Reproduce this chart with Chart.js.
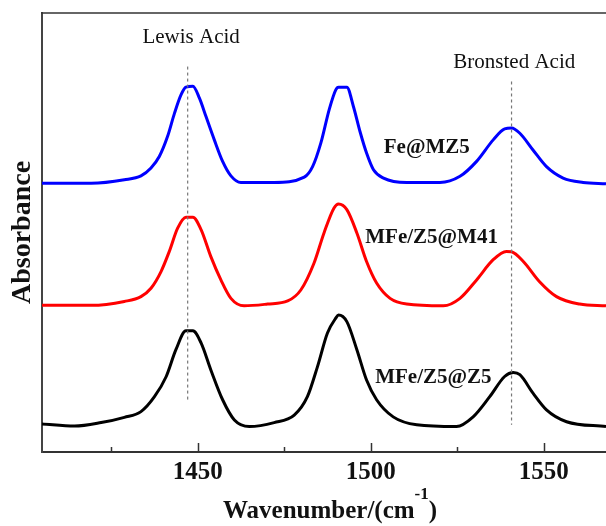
<!DOCTYPE html>
<html>
<head>
<meta charset="utf-8">
<title>Absorbance</title>
<script src="https://cdn.jsdelivr.net/npm/chart.js@4.4.0/dist/chart.umd.min.js"></script>
<style>
  html, body { margin: 0; padding: 0; background: #fff; }
</style>
</head>
<body>
<canvas id="irChart" width="606" height="526"></canvas>
<script>
// Fe@MZ5 (blue)
var waveBlue = [1405,1419.2,1428.8,1433.6,1436.5,1438.9,1441.3,1443.3,1445.2,1446.6,1448.6,1450.5,1452.4,1454.8,1457.2,1459.6,1462.5,1472.1,1480.8,1483.2,1485.6,1488.0,1489.9,1490.7,1493.1,1495.0,1496.9,1498.8,1500.8,1503.7,1510.4,1520.0,1525.8,1530.6,1535.4,1538.7,1540.7,1543.1,1546.9,1550.8,1555.6,1561.4,1568];
var absBlue  = [61.2,61.2,62.0,62.9,64.7,67.3,71.9,77.2,81.4,83.1,83.3,80.6,76.4,71.1,66.2,62.9,61.4,61.4,62.6,65.0,70.4,78.0,82.5,83.1,83.1,78.7,73.0,68.1,64.3,62.4,61.4,61.4,62.8,66.2,71.1,73.6,73.8,72.6,68.8,65.0,62.4,61.4,61.1];

// MFe/Z5@M41 (red)
var waveRed = [1405,1419.2,1428.8,1433.6,1436.5,1439.4,1441.8,1444.2,1446.6,1448.6,1451.0,1453.8,1456.7,1459.6,1463.4,1470.2,1476.0,1479.8,1483.6,1486.5,1489.4,1490.7,1493.1,1496.0,1498.8,1501.7,1505.6,1510.4,1521.0,1525.8,1530.6,1535.4,1539.2,1540.7,1544.1,1548.8,1553.7,1560.4,1568];
var absRed  = [33.4,33.4,34.3,35.4,37.3,41.1,45.7,51.0,53.5,53.5,50.6,44.5,39.2,35.0,33.3,33.7,34.4,36.9,43.0,49.9,55.6,56.5,55.2,49.9,43.4,38.5,35.0,33.7,33.3,35.0,39.2,43.8,45.7,45.6,43.4,38.8,35.4,33.7,33.3];

// MFe/Z5@Z5 (black)
var waveBlack = [1405,1414.4,1422.1,1428.8,1433.6,1437.5,1440.9,1443.7,1446.6,1448.6,1451.0,1453.8,1457.2,1460.6,1464.9,1472.1,1477.9,1481.7,1484.6,1487.5,1489.9,1490.7,1493.1,1496.0,1498.8,1501.7,1506.5,1513.3,1524.8,1529.6,1534.4,1538.7,1541.2,1543.1,1546.9,1550.8,1556.6,1568];
var absBlack  = [6.4,5.9,6.7,7.9,9.2,12.6,17.2,23.3,27.6,27.6,24.8,18.7,11.9,7.3,5.8,6.7,8.4,12.6,19.4,27.1,30.5,31.2,29.7,23.3,16.4,11.9,8.0,6.2,5.8,8.0,12.6,17.2,18.1,17.6,13.4,9.6,6.9,5.8];

// reference lines: Lewis, Bronsted
var markerWaves = [1447.1, 1540.7];
var markerTop = [87.8, 84.4];
var markerBottom = [11.9, 6.2];

var majorTicks = [1450, 1500, 1550];
var minorTicks = [1425, 1475, 1525];

function pts(xs, ys) {
  return xs.map(function(x, i) { return {x: x, y: ys[i]}; });
}

var serif = "'Liberation Serif', 'Times New Roman', serif";

var datasets = markerWaves.map(function(w, i) {
  return {
    data: [{x: w, y: markerTop[i]}, {x: w, y: markerBottom[i]}],
    borderColor: "#777",
    borderWidth: 1.2,
    borderDash: [3, 3],
    pointRadius: 0,
    fill: false
  };
});
datasets.push({ data: pts(waveBlue, absBlue), borderColor: "#0000ff" });
datasets.push({ data: pts(waveRed, absRed), borderColor: "#ff0000" });
datasets.push({ data: pts(waveBlack, absBlack), borderColor: "#000000" });
datasets.slice(2).forEach(function(d) {
  d.borderWidth = 3;
  d.pointRadius = 0;
  d.fill = false;
  d.cubicInterpolationMode = "monotone";
});

// text notes placed in data coordinates
var notes = [
  {text: "Lewis Acid", x: 1448.1, y: 94.4, bold: false},
  {text: "Bronsted Acid", x: 1541.5, y: 88.7, bold: false},
  {text: "Fe@MZ5", x: 1516.2, y: 69.3, bold: true},
  {text: "MFe/Z5@M41", x: 1517.6, y: 48.8, bold: true},
  {text: "MFe/Z5@Z5", x: 1518.1, y: 16.9, bold: true}
];

var decorations = {
  id: "decorations",
  afterDraw: function(chart) {
    var ctx = chart.ctx;
    var area = chart.chartArea;
    var xs = chart.scales.x, ys = chart.scales.y;
    ctx.save();
    // top frame line
    ctx.strokeStyle = "#333";
    ctx.lineWidth = 1.5;
    ctx.beginPath();
    ctx.moveTo(area.left - 1, area.top);
    ctx.lineTo(area.right, area.top);
    ctx.stroke();
    // inward ticks
    ctx.lineWidth = 1.5;
    majorTicks.forEach(function(v) {
      var px = Math.round(xs.getPixelForValue(v)) + 0.5;
      ctx.beginPath();
      ctx.moveTo(px, area.bottom);
      ctx.lineTo(px, area.bottom - 9);
      ctx.stroke();
    });
    minorTicks.forEach(function(v) {
      var px = Math.round(xs.getPixelForValue(v)) + 0.5;
      ctx.beginPath();
      ctx.moveTo(px, area.bottom);
      ctx.lineTo(px, area.bottom - 5);
      ctx.stroke();
    });
    // notes
    ctx.fillStyle = "#111";
    ctx.textAlign = "center";
    ctx.textBaseline = "middle";
    notes.forEach(function(n) {
      ctx.font = (n.bold ? "bold " : "") + "21px " + serif;
      ctx.fillText(n.text, xs.getPixelForValue(n.x), ys.getPixelForValue(n.y));
    });
    // x axis title with superscript
    var main = "Wavenumber/(cm", sup = "-1", close = ")";
    var mainFont = "bold 25px " + serif, supFont = "bold 17px " + serif;
    ctx.font = mainFont;
    var w1 = ctx.measureText(main).width, w3 = ctx.measureText(close).width;
    ctx.font = supFont;
    var w2 = ctx.measureText(sup).width;
    var cx = (area.left + area.right) / 2 + 6;
    var x0 = cx - (w1 + w2 + w3) / 2;
    var base = 518;
    ctx.textAlign = "left";
    ctx.textBaseline = "alphabetic";
    ctx.font = mainFont;
    ctx.fillText(main, x0, base);
    ctx.font = supFont;
    ctx.fillText(sup, x0 + w1, base - 19);
    ctx.font = mainFont;
    ctx.fillText(close, x0 + w1 + w2, base);
    ctx.restore();
  }
};

new Chart("irChart", {
  type: "line",
  data: { datasets: datasets },
  options: {
    responsive: false,
    animation: false,
    layout: { padding: { top: 13, right: 0, left: 0, bottom: 0 } },
    plugins: {
      legend: { display: false },
      tooltip: { enabled: false }
    },
    scales: {
      x: {
        type: "linear",
        min: 1405,
        max: 1568,
        afterBuildTicks: function(s) {
          s.ticks = majorTicks.map(function(v) { return {value: v}; });
        },
        afterFit: function(s) { s.height = 74; },
        grid: { display: false, drawTicks: false },
        border: { color: "#333", width: 2 },
        ticks: {
          color: "#111",
          padding: 6,
          maxRotation: 0,
          callback: function(v) { return String(v); },
          font: { family: serif, weight: "bold", size: 25 }
        }
      },
      y: {
        min: 0,
        max: 100,
        afterFit: function(s) { s.width = 42; },
        grid: { display: false, drawTicks: false },
        border: { color: "#444", width: 2 },
        ticks: { display: false },
        title: {
          display: true,
          text: "Absorbance",
          color: "#111",
          padding: { top: 6, bottom: 0 },
          font: { family: serif, weight: "bold", size: 28 }
        }
      }
    }
  },
  plugins: [decorations]
});
</script>
</body>
</html>
